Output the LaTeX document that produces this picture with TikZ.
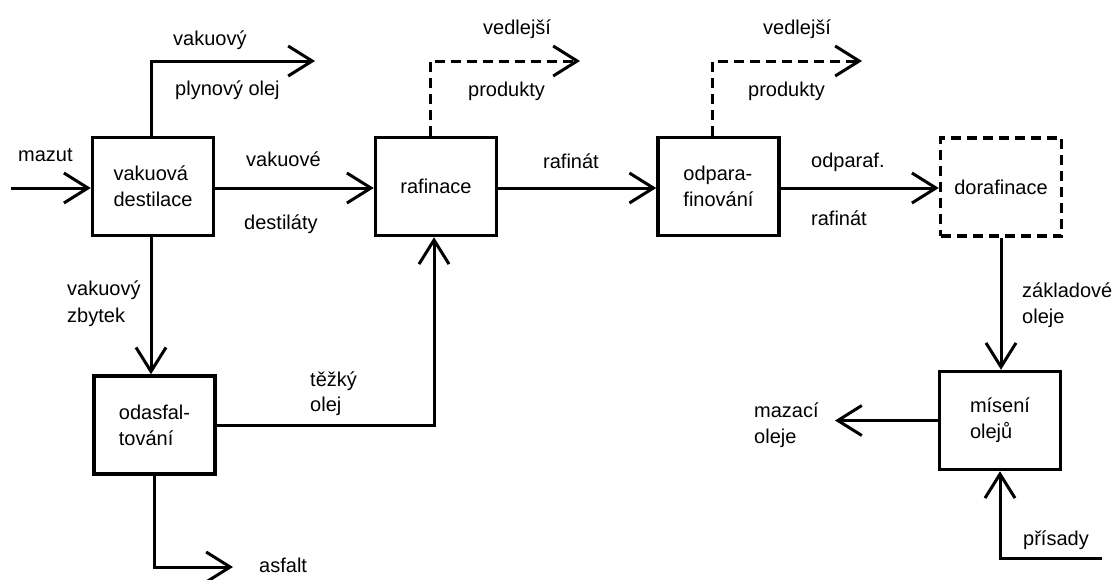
\documentclass[tikz,border=0pt]{standalone}
\usepackage{fontspec}
\setmainfont{Liberation Sans}
\usetikzlibrary{arrows.meta}
\begin{document}
\begin{tikzpicture}[x=1pt,y=-1pt,
  every node/.style={font=\fontsize{20}{26}\selectfont},
  procbox/.style={draw,line width=3.5pt,minimum width=121pt,minimum height=98pt,align=left,inner sep=0pt},
  flow/.style={line width=3pt,-{Straight Barb[length=24pt,width=30pt,line width=3pt]}},
  plain/.style={line width=3pt},
  lbl/.style={anchor=base west,inner sep=0pt},
  dashline/.style={dash pattern=on 10pt off 6pt}]
\useasboundingbox (0,0) rectangle (1114,579);
% boxes
\node[procbox] (vd) at (153,186.5) {vakuová\\destilace};
\node[procbox] (raf) at (436,186.5) {rafinace};
\node[procbox] (odp) at (718.5,186.5) {odpara-\\finování};
\node[procbox,dashline] (dor) at (1001,187) {dorafinace};
\node[procbox] (odas) at (154.5,425) {odasfal-\\tování};
\node[procbox] (mis) at (1000,420.5) {mísení\\olejů};
% free ends
\coordinate (mzin) at (11,188);
\coordinate (vpo) at (315,61);
\coordinate (asf) at (233,567);
\coordinate (vp1) at (580,61);
\coordinate (vp2) at (862,61);
\coordinate (mzo) at (835,420.5);
\coordinate (pris) at (1102,558);
% connectors
\draw[flow] (mzin) -- (vd.west |- mzin);
\draw[flow] ([xshift=-2pt]vd.north) |- (vpo);
\draw[flow] (vd.east |- mzin) -- (raf.west |- mzin);
\draw[flow] ([xshift=-2pt]vd.south) -- ([xshift=-2pt]vd.south |- odas.north);
\draw[flow] (odas.east) -| ([xshift=-2pt]raf.south);
\draw[flow] (odas.south) |- (asf);
\draw[flow,dashline] ([xshift=-6pt]raf.north) |- (vp1);
\draw[flow] (raf.east |- mzin) -- (odp.west |- mzin);
\draw[flow,dashline] ([xshift=-6pt]odp.north) |- (vp2);
\draw[flow] (odp.east |- mzin) -- (dor.west |- mzin);
\draw[flow] (dor.south) -- (dor.south |- mis.north);
\draw[flow] (mis.west) -- (mzo);
\draw[flow] (pris) -| (mis.south);
% labels
\node[lbl] (l1) at (173,45) {vakuový};
\node[lbl] (l2) at (175,95) {plynový olej};
\node[lbl] (l3) at (18,161) {mazut};
\node[lbl] (l4) at (246,166) {vakuové};
\node[lbl] (l5) at (244,229) {destiláty};
\node[lbl] (l6) at (67,295) {vakuový};
\node[lbl] (l7) at (67,322) {zbytek};
\node[lbl] (l8) at (310,386) {těžký};
\node[lbl] (l9) at (310,411) {olej};
\node[lbl] (l10) at (259,572) {asfalt};
\node[lbl] (l11) at (483,34) {vedlejší};
\node[lbl] (l12) at (468,96) {produkty};
\node[lbl] (l13) at (543,168) {rafinát};
\node[lbl] (l14) at (763,34) {vedlejší};
\node[lbl] (l15) at (748,96) {produkty};
\node[lbl] (l16) at (811,167) {odparaf.};
\node[lbl] (l17) at (811,225) {rafinát};
\node[lbl] (l18) at (1022,297) {základové};
\node[lbl] (l19) at (1022,323) {oleje};
\node[lbl] (l20) at (754,417) {mazací};
\node[lbl] (l21) at (754,443) {oleje};
\node[lbl] (l22) at (1023,545) {přísady};
\end{tikzpicture}
\end{document}
